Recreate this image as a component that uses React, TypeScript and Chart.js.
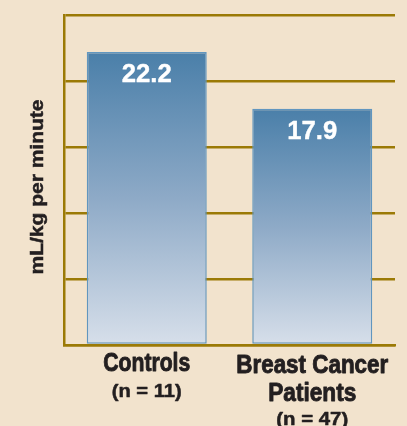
import React, { useEffect, useRef } from "react";
import { Chart, registerables } from "chart.js";

Chart.register(...registerables);

const categories = ["Controls", "Breast Cancer Patients"];
const categoryLabelLines = [
  ["Controls", "(n = 11)"],
  ["Breast Cancer", "Patients", "(n = 47)"],
];
const values = [22.2, 17.9];
const valueLabels = ["22.2", "17.9"];
const yMin = 0;
const yMax = 25;
const yStep = 5;
const yTitle = "mL/kg per minute";

const BG = "#f2e3cd";
const GRID = "#9b7a06";
const TEXT = "#231f20";
const FONT = "'Liberation Sans', Arial, sans-serif";

// per-line text styles (size, baseline offset below plot bottom, target width)
const lineStyles: Record<string, { size: number; dy: number; w: number }[]> = {
  "0": [
    { size: 25, dy: 26, w: 87 },
    { size: 18, dy: 52, w: 70 },
  ],
  "1": [
    { size: 25, dy: 28, w: 152 },
    { size: 25, dy: 56, w: 88 },
    { size: 18, dy: 80, w: 72 },
  ],
};

function drawFitted(
  ctx: CanvasRenderingContext2D,
  text: string,
  font: string,
  cx: number,
  y: number,
  targetW: number,
  stroke: number
) {
  ctx.save();
  ctx.font = font;
  const m = ctx.measureText(text).width;
  const s = targetW / m;
  ctx.translate(cx, y);
  ctx.scale(s, 1);
  ctx.textAlign = "center";
  ctx.fillText(text, 0, 0);
  if (stroke > 0) {
    ctx.strokeStyle = ctx.fillStyle as string;
    ctx.lineWidth = stroke;
    ctx.lineJoin = "round";
    ctx.strokeText(text, 0, 0);
  }
  ctx.restore();
}

const textPlugin = {
  id: "customText",
  afterDatasetsDraw(chart: any) {
    const ctx: CanvasRenderingContext2D = chart.ctx;
    const xs = chart.scales.x;
    const ys = chart.scales.y;
    const area = chart.chartArea;
    // value labels inside bars
    ctx.save();
    ctx.fillStyle = "#ffffff";
    ctx.textBaseline = "alphabetic";
    values.forEach((v, i) => {
      const x = xs.getPixelForValue(i);
      const y = ys.getPixelForValue(v);
      drawFitted(ctx, valueLabels[i], `bold 26px ${FONT}`, x, y + 30, 50, 0.4);
    });
    ctx.restore();

    // category labels
    ctx.save();
    ctx.fillStyle = TEXT;
    ctx.textBaseline = "alphabetic";
    categoryLabelLines.forEach((lines, i) => {
      const x = xs.getPixelForValue(i);
      lines.forEach((t, j) => {
        const st = lineStyles[String(i)][j];
        drawFitted(ctx, t, `bold ${st.size}px ${FONT}`, x, area.bottom + st.dy, st.w, st.size > 20 ? 0.9 : 0.5);
      });
    });
    ctx.restore();

    // y title
    ctx.save();
    ctx.fillStyle = TEXT;
    ctx.strokeStyle = TEXT;
    ctx.font = `bold 19px ${FONT}`;
    const m = ctx.measureText(yTitle).width;
    const cy = (area.top + area.bottom) / 2 + 7;
    ctx.translate(43, cy);
    ctx.rotate(-Math.PI / 2);
    ctx.scale(175 / m, 1);
    ctx.textAlign = "center";
    ctx.textBaseline = "alphabetic";
    ctx.fillText(yTitle, 0, 0);
    ctx.lineWidth = 0.5;
    ctx.strokeText(yTitle, 0, 0);
    ctx.restore();
  },
};

export default function App() {
  const ref = useRef<HTMLCanvasElement | null>(null);

  useEffect(() => {
    document.body.style.margin = "0";
    document.body.style.background = BG;
    const canvas = ref.current;
    if (!canvas) return;
    const chart = new Chart(canvas, {
      type: "bar",
      data: {
        labels: categories,
        datasets: [
          {
            data: values,
            backgroundColor: (c: any) => {
              const ch = c.chart;
              const area = ch.chartArea;
              if (!area) return "#6f97bb";
              const ys = ch.scales.y;
              const top = ys.getPixelForValue(values[c.dataIndex] ?? 0);
              const g = ch.ctx.createLinearGradient(0, top, 0, area.bottom);
              g.addColorStop(0, "#4a7fa9");
              g.addColorStop(0.5, "#8eaac7");
              g.addColorStop(1, "#d7dfea");
              return g;
            },
            borderColor: "#6196bf",
            borderWidth: 1.5,
            borderSkipped: false,
            barPercentage: 0.725,
            categoryPercentage: 1,
          },
        ],
      },
      options: {
        animation: false,
        responsive: false,
        maintainAspectRatio: false,
        layout: { padding: { top: 15, right: 12, left: 0, bottom: 0 } },
        plugins: {
          legend: { display: false },
          tooltip: { enabled: false },
          title: { display: false },
        },
        scales: {
          x: {
            ticks: { display: false },
            grid: { display: false, drawTicks: false },
            border: { display: true, color: GRID, width: 2.5 },
            afterFit: (s: any) => {
              s.height = 81;
            },
          },
          y: {
            min: yMin,
            max: yMax,
            ticks: { display: false, stepSize: yStep },
            grid: { color: GRID, lineWidth: 2.5, drawTicks: false },
            border: { display: true, color: GRID, width: 2.5 },
            afterFit: (s: any) => {
              s.width = 64;
            },
          },
        },
      },
      plugins: [textPlugin],
    });
    return () => chart.destroy();
  }, []);

  return (
    <div style={{ width: 407, height: 426, background: BG, overflow: "hidden" }}>
      <canvas ref={ref} width={407} height={426} style={{ display: "block" }} />
    </div>
  );
}
